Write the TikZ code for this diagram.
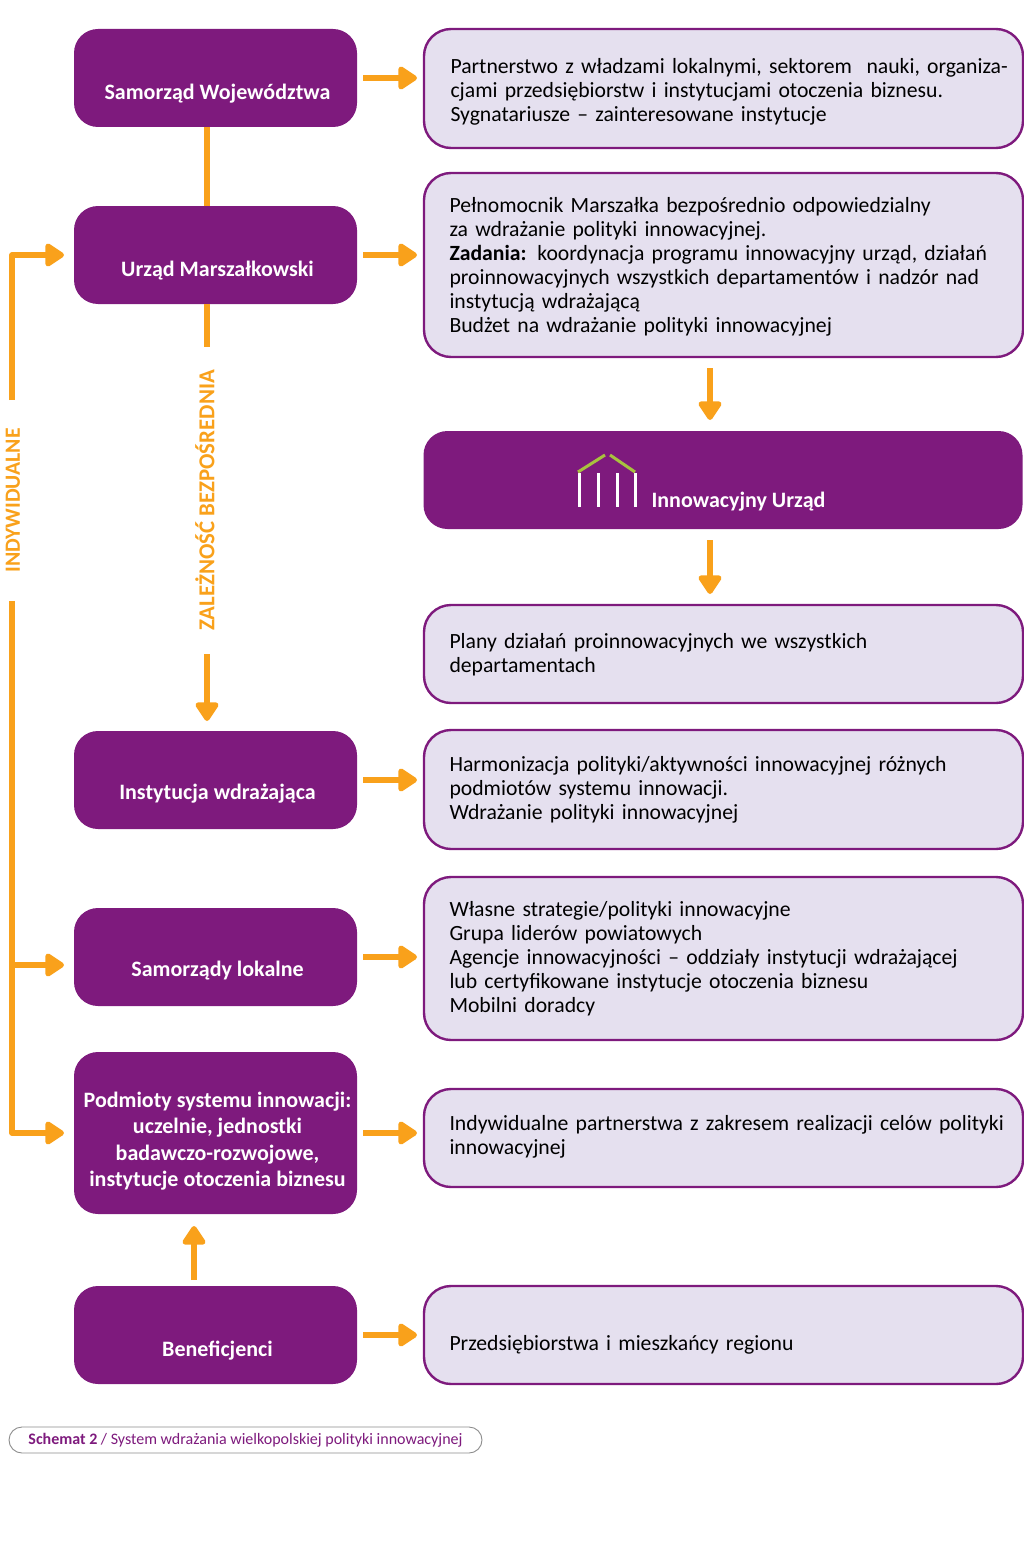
\documentclass[tikz,border=0pt]{standalone}
\usepackage{fontspec}
\setmainfont{Carlito}
\usepackage{tikz}
\usetikzlibrary{arrows.meta}
\definecolor{purple}{RGB}{126,26,125}
\definecolor{lilac}{RGB}{229,224,239}
\definecolor{orange}{RGB}{249,161,27}
\definecolor{lime}{RGB}{168,194,62}
\newcommand{\drop}[2][21pt]{\raisebox{-#1}[0pt][0pt]{\hspace*{4pt}#2}}
\newcommand{\lines}[2][-5.5pt]{\hspace*{25.5pt}\raisebox{#1}[0pt][0pt]{\parbox[c]{572pt}{\raggedright #2}}}

\begin{document}
\begin{tikzpicture}[x=1pt, y=-1pt, >={Triangle[width=26pt,length=21pt,round]},
dark/.style={rectangle,rounded corners=24pt,fill=purple,text=white,minimum width=283pt,minimum height=98pt,inner sep=0pt,outer sep=0pt,align=center,font=\fontsize{22}{26.3}\selectfont\bfseries},
wide/.style={dark,minimum width=599pt},
pale/.style={rectangle,rounded corners=27pt,draw=purple,line width=2.4pt,fill=lilac,text=black,text width=599pt,inner sep=0pt,outer sep=0pt,align=left,font=\fontsize{21.7}{24}\selectfont},
flow/.style={draw=orange,line width=5.5pt,line join=round,->},
plain/.style={draw=orange,line width=5.5pt},
side/.style={rotate=90,text=orange,inner ysep=0pt,font=\fontsize{22.8}{24}\selectfont\bfseries}]
\useasboundingbox (0,0) rectangle (1024,1565);

% left column
\node [dark] (sw) at (215.5,78) {\drop[22pt]{Samorząd Województwa}};
\node [dark] (um) at (215.5,255) {\drop{Urząd Marszałkowski}};
\node [dark] (iw) at (215.5,780) {\drop[19pt]{Instytucja wdrażająca}};
\node [dark] (sl) at (215.5,957) {\drop[19pt]{Samorządy lokalne}};
\node [dark,minimum height=162pt] (ps) at (215.5,1133) {\drop[14pt]{\begin{tabular}{@{}c@{}}Podmioty systemu innowacji:\\uczelnie, jednostki\\badawczo-rozwojowe,\\instytucje otoczenia biznesu\end{tabular}}};
\node [dark] (be) at (215.5,1335) {\drop{Beneficjenci}};

% right column
\node [pale,minimum height=119pt] (pa) at (723.5,88.5) {\lines[-8.5pt]{\hspace*{1pt}Partnerstwo z władzami lokalnymi, sektorem\ \ nauki, organiza-\\\hspace*{1pt}cjami przedsiębiorstw i instytucjami otoczenia biznesu.\\\hspace*{1pt}Sygnatariusze – zainteresowane instytucje}};
\node [pale,minimum height=184pt] (pe) at (723.5,265) {\lines[-7.5pt]{Pełnomocnik Marszałka bezpośrednio odpowiedzialny\\za wdrażanie polityki innowacyjnej.\\\textbf{Zadania:} koordynacja programu innowacyjny urząd, działań\\proinnowacyjnych wszystkich departamentów i nadzór nad\\instytucją wdrażającą\\Budżet na wdrażanie polityki innowacyjnej}};
\node [dark,wide] (iu) at (723,480) {\hspace*{27pt}\drop[27pt]{Innowacyjny Urząd}};
\node [pale,minimum height=98pt] (pl) at (723.5,654) {\lines{Plany działań proinnowacyjnych we wszystkich\\departamentach}};
\node [pale,minimum height=119pt] (ha) at (723.5,789.5) {\lines{Harmonizacja polityki/aktywności innowacyjnej różnych\\podmiotów systemu innowacji.\\Wdrażanie polityki innowacyjnej}};
\node [pale,minimum height=163pt] (ws) at (723.5,958.5) {\lines{Własne strategie/polityki innowacyjne\\Grupa liderów powiatowych\\Agencje innowacyjności – oddziały instytucji wdrażającej\\lub certyfikowane instytucje otoczenia biznesu\\Mobilni doradcy}};
\node [pale,minimum height=98pt] (ip) at (723.5,1138) {\lines[-3.5pt]{Indywidualne partnerstwa z zakresem realizacji celów polityki\\innowacyjnej}};
\node [pale,minimum height=98pt] (pr) at (723.5,1335) {\lines{\raisebox{-15pt}[0pt][0pt]{Przedsiębiorstwa i mieszkańcy regionu}}};

% icon
\foreach \x in {579,598,617,635}
  \draw [white,line width=3pt] (\x,473) -- (\x,507);
\draw [lime,line width=3pt] (578,472) -- (605,455);
\draw [lime,line width=3pt] (610,455) -- (635,472);

% side labels
\coordinate (stem) at (207,0);
\coordinate (rail) at (12,0);
\coordinate (down) at (710,0);
\coordinate (lift) at (194,0);
\node [side,inner xsep=23pt] (zb) at (205,500.5) {ZALEŻNOŚĆ BEZPOŚREDNIA};
\node [side,inner xsep=28pt,font=\fontsize{21.7}{24}\selectfont\bfseries] (in) at (13,500.5) {INDYWIDUALNE};

% arrows to the right
\foreach \a/\b in {sw/pa,um/pe,iw/ha,sl/ws,ps/ip,be/pr}
  \draw [flow,shorten <=6pt,shorten >=7pt] (\a.east) -- (\a.east -| \b.west);

% arrows inside
\draw [plain] (sw.south -| stem) -- (um.north -| stem);
\draw [plain] (um.south -| stem) -- (zb.east -| stem);
\draw [flow,shorten >=10pt] (zb.west -| stem) -- (iw.north -| stem);
\draw [flow,shorten <=11pt,shorten >=11pt] (pe.south -| down) -- (iu.north -| down);
\draw [flow,shorten <=11pt,shorten >=11pt] (iu.south -| down) -- (pl.north -| down);
\draw [flow,shorten <=6pt,shorten >=12pt] (be.north -| lift) -- (ps.south -| lift);

% rail
\draw [flow,shorten >=10pt] (in.east -| rail) -- (um.west -| rail) -- (um.west);
\draw [flow,shorten >=10pt] (in.west -| rail) -- (ps.west -| rail) -- (ps.west);
\coordinate (sl2) at ([yshift=-8pt]sl.west);
\draw [flow,shorten >=10pt] (sl2 -| rail) -- (sl2);

% caption
\node [rectangle,rounded corners=13pt,draw=black!45,line width=0.9pt,fill=white,text=purple,minimum width=473pt,minimum height=26pt,inner sep=0pt] (sc) at (245.5,1440) {\fontsize{16}{18}\selectfont\textbf{Schemat 2} / System wdrażania wielkopolskiej polityki innowacyjnej};
\end{tikzpicture}
\end{document}
